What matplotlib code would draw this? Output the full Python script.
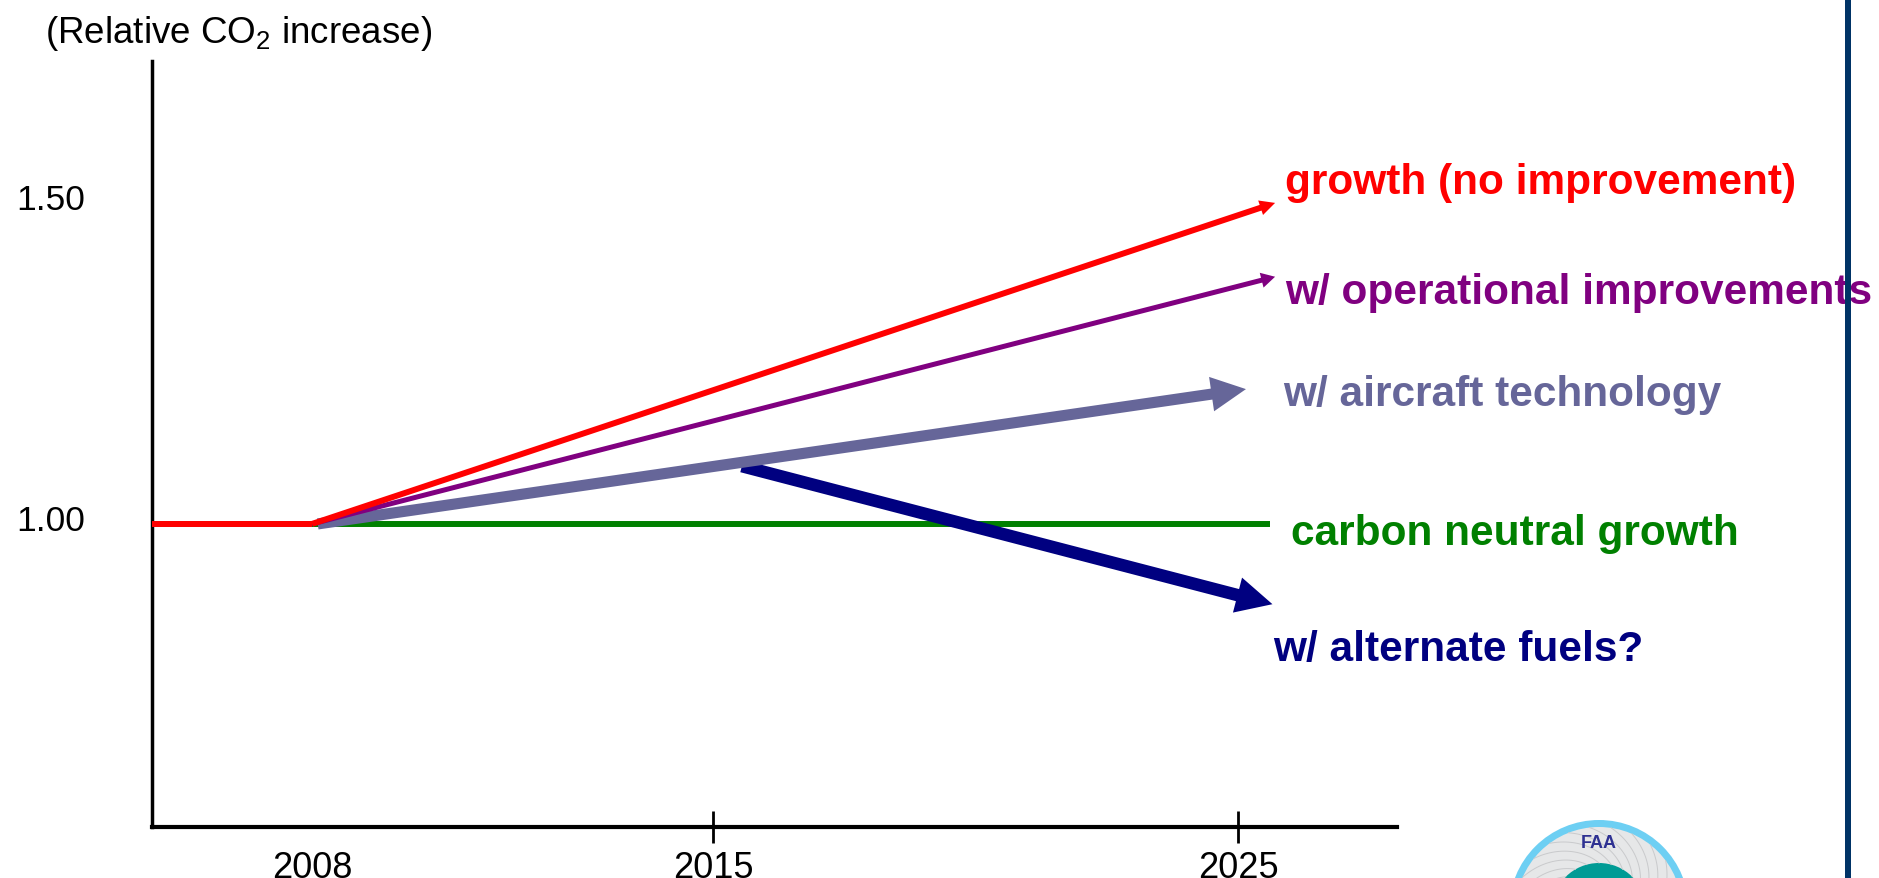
import numpy as np
import matplotlib
matplotlib.use("Agg")
import matplotlib.pyplot as plt
from matplotlib.patches import FancyArrowPatch, Circle, Rectangle
from matplotlib.transforms import ScaledTranslation

plt.rcParams['font.family'] = ['Liberation Sans', 'DejaVu Sans']
plt.rcParams['mathtext.fontset'] = 'custom'
plt.rcParams['mathtext.rm'] = 'Liberation Sans'

# ---- data -------------------------------------------------------------
year_ticks = [2008, 2015, 2025]
year_labels = ['2008', '2015', '2025']
value_ticks = [1.00, 1.50]
value_labels = ['1.00', '1.50']

baseline_years = [2005, 2008]
baseline_values = [1.00, 1.00]

neutral_years = [2005, 2025.6]
neutral_values = [1.00, 1.00]

growth_years = [2008, 2025.7]
growth_values = [1.00, 1.50]

operational_years = [2008, 2025.7]
operational_values = [1.00, 1.385]

technology_years = [2008.1, 2025.15]
technology_values = [1.00, 1.21]

fuels_years = [2015.55, 2025.65]
fuels_values = [1.09, 0.875]

# schematic (piecewise-linear) time axis
knot_years = [1900, 2005, 2008, 2015, 2025, 2028, 2100]
knot_pos = [-5330, 0, 160, 561, 1086, 1245, 5061]


def fwd(x):
    return np.interp(x, knot_years, knot_pos)


def inv(p):
    return np.interp(p, knot_pos, knot_years)


C_RED = '#FF0000'
C_PURPLE = '#800080'
C_TECH = '#666699'
C_GREEN = '#008000'
C_NAVY = '#000080'

W, H = 1879, 879
fig = plt.figure(figsize=(W / 100, H / 100), dpi=100)
fig.patch.set_facecolor('white')

ax = fig.add_axes([152 / W, 1 - 828 / H, (1397 - 152) / W, (828 - 62) / H])
ax.set_xscale('function', functions=(fwd, inv))
ax.set_xlim(2005, 2028)
ax.set_ylim(0.528, 1.721)

for side in ('top', 'right'):
    ax.spines[side].set_visible(False)
ax.spines['left'].set_linewidth(2.5)
ax.spines['bottom'].set_linewidth(3.0)

ax.set_xticks(year_ticks)
ax.set_xticklabels(year_labels, fontsize=26)
ax.xaxis.set_minor_locator(matplotlib.ticker.NullLocator())
ax.tick_params(axis='x', direction='inout', length=23, width=2, pad=5)
ax.xaxis.get_major_ticks()[0].tick1line.set_visible(False)

ax.set_yticks(value_ticks)
ax.set_yticklabels(value_labels, fontsize=25.5)
ax.yaxis.set_minor_locator(matplotlib.ticker.NullLocator())
ax.tick_params(axis='y', length=0, pad=48)
for lab in ax.get_yticklabels():
    lab.set_transform(lab.get_transform() + ScaledTranslation(0, 7 / 100, fig.dpi_scale_trans))

# carbon-neutral level
ax.plot(neutral_years, neutral_values, color=C_GREEN, lw=4.3, solid_capstyle='butt', zorder=2)


def arrow(xs, ys, color, tail, hw, hl, z):
    a = FancyArrowPatch((xs[0], ys[0]), (xs[1], ys[1]),
                        arrowstyle=f'simple,head_length={hl},head_width={hw},tail_width={tail}',
                        mutation_scale=1, color=color, lw=0, shrinkA=0, shrinkB=0,
                        transform=ax.transData, zorder=z, clip_on=False)
    ax.add_patch(a)


arrow(fuels_years, fuels_values, C_NAVY, 9.0, 26, 26, 3)
arrow(technology_years, technology_values, C_TECH, 8.0, 25, 25, 4)
arrow(operational_years, operational_values, C_PURPLE, 3.6, 11, 10, 5)
arrow(growth_years, growth_values, C_RED, 4.3, 11, 11, 6)
ax.plot(baseline_years, baseline_values, color=C_RED, lw=4.3, solid_capstyle='butt', zorder=6)

# series labels
lab_kw = dict(fontsize=30.5, fontweight='bold', va='baseline', ha='left', clip_on=False)
ax.text(2025.88, 1.515, 'growth (no improvement)', color=C_RED, **lab_kw)
ax.text(2025.88, 1.344, 'w/ operational improvements', color=C_PURPLE, **lab_kw)
ax.text(2025.86, 1.185, 'w/ aircraft technology', color=C_TECH, **lab_kw)
ax.text(2026.0, 0.968, 'carbon neutral growth', color=C_GREEN, **lab_kw)
ax.text(2025.67, 0.788, 'w/ alternate fuels?', color=C_NAVY, **lab_kw)

# axis caption
fig.text(45 / W, 1 - 43 / H, r'(Relative CO$_\mathrm{2}$ increase)', fontsize=26.5,
         ha='left', va='baseline')

# overlay in pixel units: side rule and emblem
ov = fig.add_axes([0, 0, 1, 1], zorder=5)
ov.set_xlim(0, W)
ov.set_ylim(H, 0)
ov.axis('off')
ov.patch.set_alpha(0)

ov.add_patch(Rectangle((1845, 0), 6, H, color='#003366', lw=0))

cx, cy = 1599, 911
ov.add_patch(Circle((cx, cy), 90, color='#6DCFF3', lw=0))
ov.add_patch(Circle((cx, cy), 83, color='#E6E7E8', lw=0))
r = np.linspace(47, 83, 30)
for th in np.deg2rad(np.arange(0, 360, 15)):
    ang = th + 0.9 * (r - 47) / 36
    ov.plot(cx + r * np.cos(ang), cy - r * np.sin(ang), color='#C9CACC', lw=0.7)
ov.add_patch(Circle((cx, cy), 47, color='#009B95', lw=0))
ov.text(cx, 844, 'FAA', fontsize=13, fontweight='bold', color='#2E3192',
        ha='center', va='center')

fig.savefig('out.png', dpi=100, facecolor='white')
